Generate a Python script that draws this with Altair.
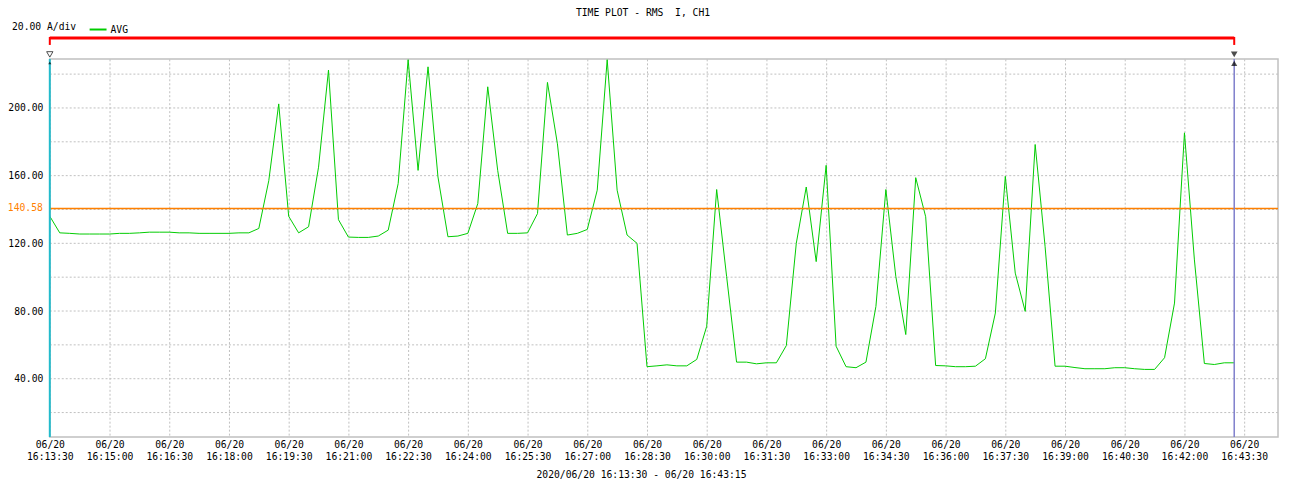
import json
import altair as alt
import pandas as pd

# ---------------- data ----------------
TITLE = "TIME PLOT - RMS\u00a0 I, CH1"  # double space kept (SVG collapses plain spaces)
SCALE_TEXT = "20.00 A/div"
SERIES_NAME = "AVG"
RANGE_TEXT = "2020/06/20 16:13:30 - 06/20 16:43:15"
DATE_LABEL = "06/20"
SAMPLE_STEP_S = 15  # one sample every 15 s starting at 16:13:30

AVG_VALUES = [
    136.0, 126.2, 125.9, 125.5, 125.5, 125.5, 125.5, 125.9, 125.9, 126.2,
    126.6, 126.6, 126.6, 126.2, 126.2, 125.9, 125.9, 125.9, 125.9, 126.2,
    126.2, 128.8, 157.0, 202.4, 136.0, 126.2, 129.8, 165.0, 222.4, 134.0,
    123.7, 123.5, 123.5, 124.3, 127.8, 155.3, 228.5, 163.1, 224.3, 159.2,
    123.9, 124.3, 125.9, 143.5, 212.5, 163.1, 125.9, 125.9, 126.2, 137.6,
    215.1, 178.8, 124.9, 125.9, 128.2, 151.4, 228.5, 151.4, 124.9, 120.0,
    47.1, 47.6, 48.2, 47.6, 47.6, 51.4, 71.0, 151.8, 100.4, 49.8,
    49.8, 48.8, 49.4, 49.4, 59.6, 120.0, 153.3, 109.2, 166.1, 59.2,
    47.1, 46.5, 49.8, 82.7, 151.8, 100.4, 66.1, 158.8, 135.7, 47.8,
    47.6, 47.1, 47.1, 47.4, 51.8, 78.8, 159.6, 102.4, 79.8, 178.4,
    118.0, 47.4, 47.4, 46.6, 45.9, 45.9, 45.9, 46.5, 46.5, 45.9,
    45.5, 45.5, 52.4, 84.7, 185.3, 110.2, 49.0, 48.4, 49.4, 49.4,
]

X_TICK_SECONDS = [0, 90, 180, 270, 360, 450, 540, 630, 720, 810, 900,
                  990, 1080, 1170, 1260, 1350, 1440, 1530, 1620, 1710, 1800]
X_TICK_LABELS = ["16:13:30", "16:15:00", "16:16:30", "16:18:00", "16:19:30",
                 "16:21:00", "16:22:30", "16:24:00", "16:25:30", "16:27:00",
                 "16:28:30", "16:30:00", "16:31:30", "16:33:00", "16:34:30",
                 "16:36:00", "16:37:30", "16:39:00", "16:40:30", "16:42:00",
                 "16:43:30"]
X_DOMAIN = [0, 1851]

Y_GRID = [20, 40, 60, 80, 100, 120, 140, 160, 180, 200, 220]
Y_LABELED = [40, 80, 120, 160, 200]
Y_DOMAIN = [5.5, 229]

REF_LEVEL = 140.58
CURSOR_START = 0      # 16:13:30
CURSOR_END = 1785     # 16:43:15

# ---------------- styles ----------------
FONT = "DejaVu Sans Mono"
FS = 9.75
GREEN = "#00CC00"
ORANGE = "#FF8000"
CYAN = "#22BBCC"
BLUE = "#7F7FCC"
RED = "#FF0000"
GRID = "#C0C0C0"

line_df = pd.DataFrame({
    "t": [i * SAMPLE_STEP_S for i in range(len(AVG_VALUES))],
    "v": AVG_VALUES,
    "series": [SERIES_NAME] * len(AVG_VALUES),
})
grid_df = pd.DataFrame({"v": Y_GRID})
ref_df = pd.DataFrame({"v": [REF_LEVEL], "label": [f"{REF_LEVEL:.2f}"]})
start_df = pd.DataFrame({"t": [CURSOR_START]})
end_df = pd.DataFrame({"t": [CURSOR_END]})
both_df = pd.DataFrame({"t": [CURSOR_START, CURSOR_END]})
span_df = pd.DataFrame({"t": [CURSOR_START], "t2": [CURSOR_END]})

x_label_expr = (
    f"['{DATE_LABEL}', {json.dumps(X_TICK_LABELS)}[round(datum.value / 90)]]"
)

x_enc = alt.X(
    "t:Q",
    scale=alt.Scale(domain=X_DOMAIN, nice=False, zero=False),
    axis=alt.Axis(
        values=X_TICK_SECONDS,
        labelExpr=x_label_expr,
        labelLineHeight=13,
        labelPadding=2,
        labelBaseline="top",
        title=RANGE_TEXT,
        titleX=594,
        titleY=38,
        titleBaseline="middle",
        titleFont=FONT,
        titleFontSize=FS,
        titleFontWeight="normal",
        labelOverlap=False,
        labelFlush=False,
        grid=True,
    ),
)
y_enc = alt.Y(
    "v:Q",
    scale=alt.Scale(domain=Y_DOMAIN, nice=False, zero=False),
    axis=alt.Axis(
        values=Y_LABELED,
        format=".2f",
        labelPadding=7,
        title=None,
        labelOverlap=False,
        grid=False,
    ),
)

grid_rules = alt.Chart(grid_df).mark_rule(
    color=GRID, strokeWidth=1, strokeDash=[2, 2]
).encode(y="v:Q")

line = alt.Chart(line_df).mark_line(strokeWidth=1, clip=True).encode(
    x=x_enc,
    y=y_enc,
    color=alt.Color(
        "series:N",
        scale=alt.Scale(domain=[SERIES_NAME], range=[GREEN]),
        legend=alt.Legend(
            orient="none",
            legendX=-38,
            legendY=-39,
            direction="horizontal",
            title=SCALE_TEXT,
            titleOrient="left",
            titleAnchor="middle",
            titleBaseline="middle",
            titleFont=FONT,
            titleFontSize=FS,
            titleFontWeight="normal",
            titleColor="black",
            titlePadding=12,
            symbolType="stroke",
            symbolSize=289,
            symbolStrokeWidth=2,
            labelFont=FONT,
            labelFontSize=FS,
            labelColor="black",
            labelOffset=3,
            padding=0,
        ),
    ),
)

ref_rule = alt.Chart(ref_df).mark_rule(color=ORANGE, strokeWidth=1.5).encode(y="v:Q")
ref_text = alt.Chart(ref_df).mark_text(
    color=ORANGE, align="right", baseline="middle", font=FONT, fontSize=FS
).encode(y="v:Q", x=alt.value(-7), text="label:N")

start_rule = alt.Chart(start_df).mark_rule(color=CYAN, strokeWidth=2).encode(x="t:Q")
end_rule = alt.Chart(end_df).mark_rule(color=BLUE, strokeWidth=1.5).encode(x="t:Q")

span_rule = alt.Chart(span_df).mark_rule(color=RED, strokeWidth=3).encode(
    x="t:Q", x2="t2:Q", y=alt.value(-21)
)
span_ends = alt.Chart(both_df).mark_rule(color=RED, strokeWidth=2).encode(
    x="t:Q", y=alt.value(-22), y2=alt.value(-14)
)

start_tri = alt.Chart(start_df).mark_point(
    shape="triangle-down", filled=False, color="black", strokeWidth=1, size=40
).encode(x="t:Q", y=alt.value(-4.5))
start_up = alt.Chart(start_df).mark_point(
    shape="triangle-up", filled=True, color="black", size=10
).encode(x="t:Q", y=alt.value(4))
end_tri = alt.Chart(end_df).mark_point(
    shape="triangle-down", filled=True, color="black", size=45
).encode(x="t:Q", y=alt.value(-4.5))
end_up = alt.Chart(end_df).mark_point(
    shape="triangle-up", filled=True, color="black", size=38
).encode(x="t:Q", y=alt.value(4.5))

chart = alt.layer(
    grid_rules, line, ref_rule, ref_text, start_rule, end_rule,
    span_rule, span_ends, start_tri, start_up, end_tri, end_up,
).properties(
    width=1234,
    height=380,
    padding={"left": 42, "top": 50, "right": 3, "bottom": 46},
    autosize=alt.AutoSizeParams(type="none"),
    title=alt.TitleParams(
        text=TITLE,
        anchor="middle",
        dx=-21,
        offset=2,
        font=FONT,
        fontSize=FS,
        fontWeight="normal",
        color="black",
    ),
).configure_view(
    stroke=GRID, strokeWidth=1.5
).configure_axis(
    gridColor=GRID,
    gridDash=[2, 2],
    gridWidth=1,
    domain=False,
    ticks=False,
    labelFont=FONT,
    labelFontSize=FS,
    labelColor="black",
    titleColor="black",
)

chart.save("out.html", embed_options={"renderer": "svg", "actions": False})
